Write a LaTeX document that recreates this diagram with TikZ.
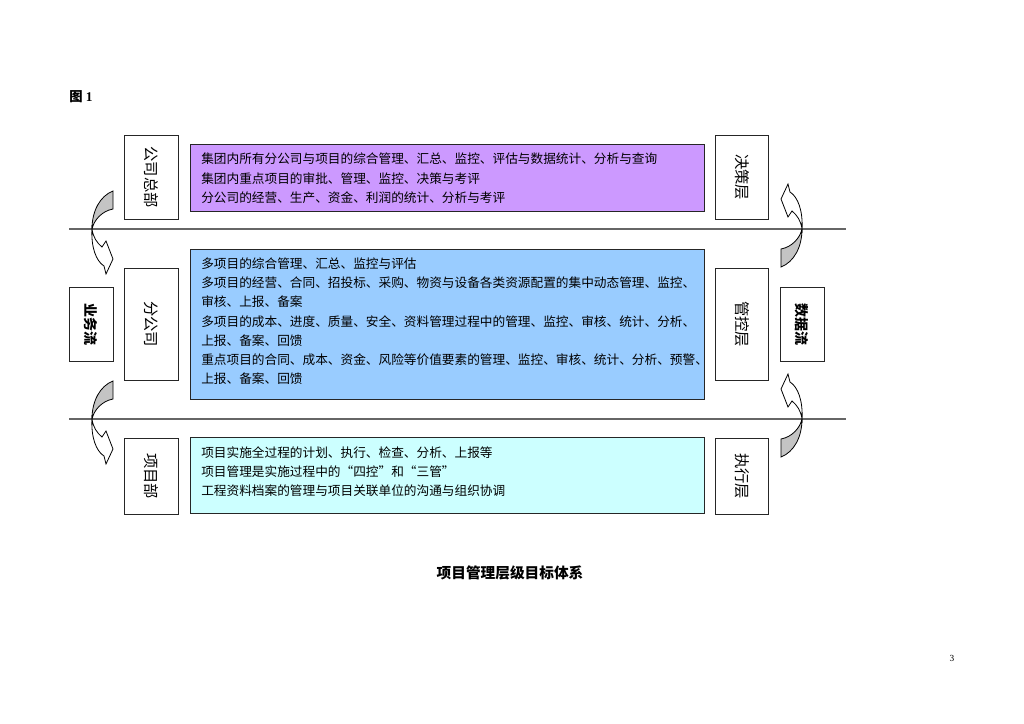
\documentclass[tikz,border=0pt]{standalone}
\usepackage{fontspec}
\setmainfont{Liberation Serif}
\newfontfamily\cjk{Noto Sans CJK SC}

\definecolor{hqpurple}{RGB}{204,153,255}
\definecolor{branchblue}{RGB}{153,204,255}
\definecolor{projcyan}{RGB}{204,255,255}
\definecolor{tailgray}{RGB}{196,196,196}

\tikzset{
  layerbox/.style={draw=black!85, line width=0.75pt, fill=white, rotate=-90,
    minimum height=40pt, inner sep=0pt, font=\cjk\fontsize{11.5}{12}\selectfont},
  levelbox/.style={draw=black!85, line width=0.75pt, minimum width=385.5pt, inner sep=0pt},
  bodytext/.style={anchor=north west, inner sep=0pt, align=left,
    font=\cjk\fontsize{9.5}{14.4}\selectfont},
  flowbox/.style={draw=black!85, line width=0.75pt, rotate=-90, minimum width=55.5pt,
    minimum height=33pt, inner sep=0pt, font=\cjk\bfseries\fontsize{10.5}{12}\selectfont},
  sepline/.style={black!60, line width=1pt},
  flowarrow/.pic={
    \filldraw[fill=tailgray, draw=black, line width=0.6pt]
      (21,-38) .. controls (8,-33) and (0,-18) .. (0,0)
      .. controls (2,-9) and (10,-18) .. (21,-20) -- cycle;
    \filldraw[fill=white, draw=black, line width=0.6pt]
      (0,0) .. controls (-1,18) and (4,32) .. (12,37) -- (14,45) -- (21,30)
      -- (14,12) -- (10,18) .. controls (5,14) and (1,8) .. (0,0) -- cycle;
  }
}

\begin{document}
\begin{tikzpicture}[x=0.75pt, y=-0.75pt]
  \useasboundingbox (0,0) rectangle (1024,724);

  \node[anchor=west, inner sep=0pt, font=\bfseries\fontsize{10}{12}\selectfont] (figlabel) at (69,97) {{\cjk 图} 1};

  % separators between the levels
  \draw[sepline] (69,229) -- (846,229);
  \draw[sepline] (69,419) -- (846,419);

  % left: organisation units
  \node[layerbox, minimum width=63pt] (hq) at (151.5,177) {公司总部};
  \node[layerbox, minimum width=84pt] (branch) at (151.5,324) {分公司};
  \node[layerbox, minimum width=57pt] (proj) at (151.5,476) {项目部};

  % right: management levels
  \node[layerbox, minimum width=63pt] (decide) at (742,177) {决策层};
  \node[layerbox, minimum width=84pt] (control) at (742,324) {管控层};
  \node[layerbox, minimum width=57pt] (execute) at (742,476) {执行层};

  % middle: targets of each level
  \node[levelbox, fill=hqpurple, minimum height=50.25pt] (hqbox) at (447,177.5) {};
  \node[levelbox, fill=branchblue, minimum height=112.5pt] (branchbox) at (447,324) {};
  \node[levelbox, fill=projcyan, minimum height=57pt] (projbox) at (447,475) {};

  \node[bodytext] (hqtext) at (201,153) {集团内所有分公司与项目的综合管理、汇总、监控、评估与数据统计、分析与查询\\
    集团内重点项目的审批、管理、监控、决策与考评\\
    分公司的经营、生产、资金、利润的统计、分析与考评};
  \node[bodytext] (branchtext) at (201,257.5) {多项目的综合管理、汇总、监控与评估\\
    多项目的经营、合同、招投标、采购、物资与设备各类资源配置的集中动态管理、监控、\\
    审核、上报、备案\\
    多项目的成本、进度、质量、安全、资料管理过程中的管理、监控、审核、统计、分析、\\
    上报、备案、回馈\\
    重点项目的合同、成本、资金、风险等价值要素的管理、监控、审核、统计、分析、预警、\\
    上报、备案、回馈};
  \node[bodytext] (projtext) at (201,446.5) {项目实施全过程的计划、执行、检查、分析、上报等\\
    项目管理是实施过程中的“四控”和“三管”\\
    工程资料档案的管理与项目关联单位的沟通与组织协调};

  % flows
  \node[flowbox] (bizflow) at (91,324) {业务流};
  \node[flowbox] (dataflow) at (802,324) {数据流};

  \pic at (92,229) {flowarrow};
  \pic at (92,419) {flowarrow};
  \pic[rotate=180] at (802,229) {flowarrow};
  \pic[rotate=180] at (802,419) {flowarrow};

  \node[font=\cjk\bfseries\fontsize{11}{13}\selectfont] (title) at (510,573) {项目管理层级目标体系};
  \node[font=\fontsize{7}{8}\selectfont] (pagenum) at (952,658) {3};
\end{tikzpicture}
\end{document}
